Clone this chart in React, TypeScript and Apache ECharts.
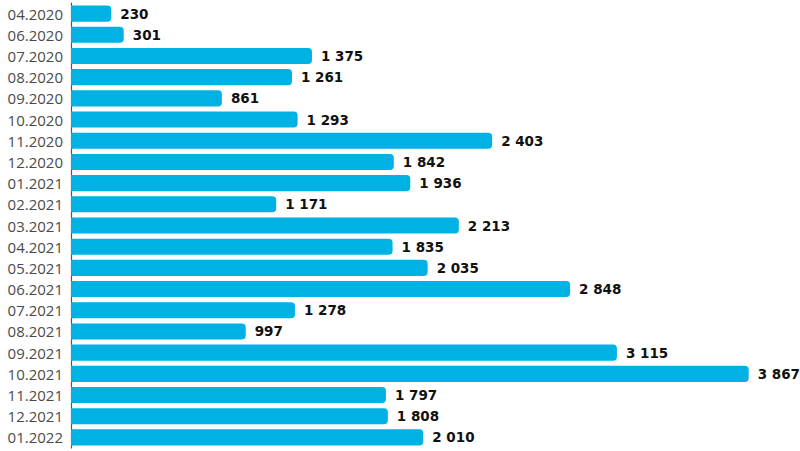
import React, { useEffect, useRef } from "react";
import * as echarts from "echarts";

const categories = [
  "04.2020", "06.2020", "07.2020", "08.2020", "09.2020", "10.2020", "11.2020",
  "12.2020", "01.2021", "02.2021", "03.2021", "04.2021", "05.2021", "06.2021",
  "07.2021", "08.2021", "09.2021", "10.2021", "11.2021", "12.2021", "01.2022",
];
const values = [
  230, 301, 1375, 1261, 861, 1293, 2403, 1842, 1936, 1171, 2213, 1835, 2035,
  2848, 1278, 997, 3115, 3867, 1797, 1808, 2010,
];

const fmt = (v: number) => String(v).replace(/\B(?=(\d{3})+(?!\d))/g, " ");

export default function App() {
  const ref = useRef<HTMLDivElement>(null);
  useEffect(() => {
    if (!ref.current) return;
    const chart = echarts.init(ref.current, undefined, { renderer: "svg" });
    chart.setOption({
      animation: false,
      grid: { left: 71, right: 28, top: 3, bottom: 3, containLabel: false },
      xAxis: {
        type: "value",
        min: 0,
        max: 4000,
        show: false,
      },
      yAxis: {
        type: "category",
        data: categories,
        inverse: true,
        axisLine: { show: true, lineStyle: { color: "#555", width: 1.2 } },
        axisTick: { show: false },
        axisLabel: {
          color: "#4a4a4a",
          fontFamily: "Open Sans",
          fontWeight: 400,
          fontSize: 15,
          margin: 8,
        },
      },
      series: [
        {
          type: "bar",
          data: values,
          barCategoryGap: "24%",
          itemStyle: { color: "#00b2e3", borderRadius: [0, 4, 4, 0] },
          label: {
            show: true,
            position: "right",
            distance: 9,
            color: "#111",
            fontFamily: "DejaVu Sans",
            fontWeight: 700,
            fontSize: 13.5,
            formatter: (p: any) => fmt(p.value),
          },
        },
      ],
    });
    return () => chart.dispose();
  }, []);
  return (
    <div
      ref={ref}
      style={{ position: "fixed", left: 0, top: 0, width: 800, height: 451, background: "#fff" }}
    />
  );
}
